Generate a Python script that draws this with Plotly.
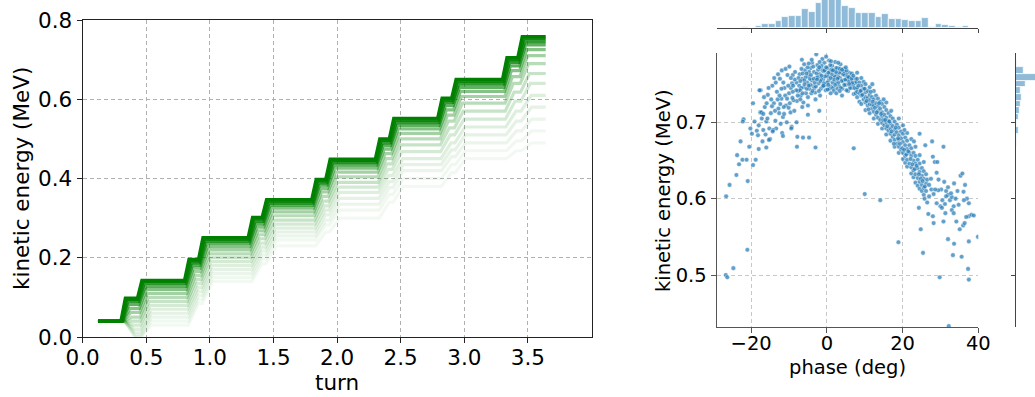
import plotly.graph_objects as go

W, H = 1035, 397
FONT = "DejaVu Sans"

# ---------------- left panel: energy vs turn ----------------
turn_ticks = [0.0, 0.5, 1.0, 1.5, 2.0, 2.5, 3.0, 3.5]
energy_ticks_left = [0.0, 0.2, 0.4, 0.6, 0.8]
inject_turn = 0.12
end_turn = 3.64
# turns at which each acceleration gap starts
step_turns = [0.30, 0.43, 0.80, 0.91, 1.30, 1.41, 1.80, 1.91,
              2.30, 2.41, 2.79, 2.90, 3.30, 3.42]

# energy levels (MeV) of representative particles: initial + after each gap
traj_01 = [0.040, 0.098, 0.143, 0.196, 0.251, 0.302, 0.347, 0.398, 0.449, 0.500, 0.552, 0.603, 0.650, 0.705, 0.758]
traj_02 = [0.040, 0.095, 0.140, 0.192, 0.247, 0.298, 0.343, 0.394, 0.445, 0.496, 0.547, 0.598, 0.645, 0.700, 0.752]
traj_03 = [0.040, 0.090, 0.135, 0.187, 0.242, 0.292, 0.338, 0.389, 0.440, 0.490, 0.541, 0.592, 0.638, 0.693, 0.745]
traj_04 = [0.040, 0.082, 0.128, 0.181, 0.236, 0.285, 0.332, 0.383, 0.434, 0.483, 0.534, 0.584, 0.630, 0.684, 0.737]
traj_05 = [0.040, 0.072, 0.120, 0.174, 0.228, 0.277, 0.325, 0.375, 0.426, 0.474, 0.525, 0.573, 0.620, 0.672, 0.725]
traj_06 = [0.040, 0.062, 0.110, 0.165, 0.220, 0.268, 0.316, 0.366, 0.416, 0.463, 0.514, 0.560, 0.607, 0.657, 0.710]
traj_07 = [0.040, 0.050, 0.100, 0.155, 0.210, 0.258, 0.306, 0.355, 0.404, 0.450, 0.500, 0.545, 0.590, 0.640, 0.690]
traj_08 = [0.040, 0.040, 0.090, 0.145, 0.200, 0.248, 0.295, 0.343, 0.390, 0.437, 0.485, 0.528, 0.570, 0.618, 0.665]
traj_09 = [0.040, 0.030, 0.080, 0.135, 0.190, 0.237, 0.285, 0.331, 0.378, 0.423, 0.468, 0.510, 0.550, 0.595, 0.640]
traj_10 = [0.040, 0.020, 0.070, 0.125, 0.180, 0.227, 0.275, 0.320, 0.365, 0.408, 0.450, 0.490, 0.530, 0.570, 0.610]
traj_11 = [0.040, 0.012, 0.060, 0.115, 0.170, 0.217, 0.265, 0.308, 0.350, 0.392, 0.435, 0.472, 0.510, 0.545, 0.580]
traj_12 = [0.040, 0.006, 0.050, 0.105, 0.160, 0.207, 0.255, 0.295, 0.335, 0.377, 0.420, 0.455, 0.490, 0.520, 0.550]
traj_13 = [0.040, 0.002, 0.040, 0.095, 0.150, 0.197, 0.245, 0.283, 0.320, 0.360, 0.400, 0.435, 0.470, 0.495, 0.520]
traj_14 = [0.040, 0.000, 0.030, 0.085, 0.140, 0.185, 0.230, 0.265, 0.300, 0.340, 0.380, 0.415, 0.450, 0.470, 0.490]
trajectories = [traj_01, traj_02, traj_03, traj_04, traj_05, traj_06, traj_07,
                traj_08, traj_09, traj_10, traj_11, traj_12, traj_13, traj_14]
traj_alpha = [1.0, 0.92, 0.8, 0.62, 0.48, 0.36, 0.28, 0.22, 0.17, 0.13, 0.10, 0.08, 0.06, 0.05]
traj_lag = [0.0, 0.005, 0.010, 0.012, 0.015, 0.018, 0.020, 0.022, 0.024, 0.026, 0.028, 0.030, 0.030, 0.030]
traj_ramp = [0.035, 0.040, 0.045, 0.050, 0.055, 0.060, 0.065, 0.070, 0.075, 0.080, 0.080, 0.080, 0.080, 0.080]

# ---------------- right panel: scatter (phase, energy) ----------------
core_pts = [
    (-8.0,0.752),(-7.6,0.741),(-7.2,0.763),(-6.9,0.735),(-6.5,0.757),(-6.1,0.746),(-5.8,0.768),(-5.5,0.738),
    (-5.2,0.752),(-4.9,0.761),(-4.6,0.744),(-4.3,0.771),(-4.0,0.755),(-3.7,0.748),(-3.4,0.766),(-3.1,0.739),
    (-2.8,0.758),(-2.5,0.775),(-2.2,0.751),(-1.9,0.763),(-1.6,0.744),(-1.3,0.769),(-1.0,0.756),(-0.7,0.778),
    (-0.4,0.749),(-0.1,0.762),(0.2,0.771),(0.5,0.755),(0.8,0.766),(1.1,0.747),(1.4,0.774),(1.7,0.759),
    (2.0,0.768),(2.3,0.752),(2.6,0.763),(2.9,0.771),(3.2,0.748),(3.5,0.758),(3.8,0.766),(4.1,0.744),
    (4.4,0.755),(4.7,0.762),(5.0,0.749),(5.3,0.757),(5.6,0.741),(5.9,0.765),(6.2,0.752),(6.5,0.745),
    (6.8,0.758),(7.1,0.737),(7.4,0.751),(7.7,0.744),
    (-7.9,0.728),(-7.3,0.748),(-6.7,0.770),(-6.2,0.726),(-5.6,0.759),(-5.0,0.733),(-4.5,0.757),(-3.9,0.778),
    (-3.3,0.745),(-2.7,0.764),(-2.1,0.741),(-1.5,0.757),(-0.9,0.767),(-0.3,0.742),(0.3,0.760),(0.9,0.775),
    (1.5,0.752),(2.1,0.760),(2.7,0.744),(3.3,0.765),(3.9,0.754),(4.5,0.770),(5.1,0.763),(5.7,0.754),
    (6.3,0.761),(6.9,0.749),(7.5,0.757),
    (-7.5,0.758),(-6.8,0.745),(-6.0,0.755),(-5.3,0.744),(-4.7,0.766),(-4.1,0.738),(-3.5,0.757),(-2.9,0.747),
    (-2.3,0.769),(-1.7,0.754),(-1.1,0.747),(-0.5,0.760),(0.1,0.752),(0.7,0.744),(1.3,0.763),(1.9,0.756),
    (2.5,0.771),(3.1,0.759),(3.7,0.745),(4.3,0.763),(4.9,0.756),(5.5,0.760),(6.1,0.745),(6.7,0.752),(7.3,0.745),
    (-6.4,0.764),(-5.1,0.772),(-3.6,0.773),(-2.4,0.759),(-1.4,0.774),(-0.6,0.768),(0.4,0.765),(1.2,0.769),
    (2.4,0.766),(3.4,0.770),(4.6,0.767),(5.8,0.759),(6.6,0.764),(7.8,0.753),(-0.8,0.751),(1.6,0.745),
    (3.0,0.752),(-4.4,0.749),(-7.0,0.754),(5.2,0.768),
    (-2.8,0.789),(-6.6,0.782),(-1.2,0.783),(0.6,0.781),(2.2,0.779),(-4.8,0.777),(3.6,0.776),(-0.2,0.786),
    (1.8,0.741),(-1.8,0.735),(-3.0,0.730),(-5.0,0.722),(-2.0,0.715),(2.5,0.738),(4.0,0.735),(1.0,0.738),(0.2,0.743),
    (-7.7,0.735),(-7.1,0.742),(-6.4,0.738),(-5.9,0.750),(-5.4,0.764),(-4.8,0.748),(-4.2,0.762),(-3.8,0.741),
    (-3.2,0.752),(-2.6,0.756),(-2.0,0.772),(-1.4,0.761),(-0.9,0.748),(-0.2,0.772),(0.4,0.749),(1.0,0.758),
    (1.6,0.768),(2.2,0.749),(2.8,0.757),(3.4,0.741),(4.0,0.769),(4.6,0.749),(5.2,0.742),(5.9,0.750),
    (6.5,0.757),(7.0,0.761),(7.6,0.738),(-6.0,0.776),(-4.0,0.782),(-1.9,0.779),(1.1,0.780),(3.0,0.778),
    (5.0,0.772),(-8.5,0.756),(-9.0,0.762),(-9.5,0.745),
]
slope_pts = [
    (8.0,0.757),(8.0,0.745),(8.0,0.733),(8.0,0.765),(8.0,0.740),(8.6,0.738),(8.6,0.752),(8.6,0.727),
    (9.1,0.748),(9.1,0.735),(9.1,0.758),(9.1,0.742),(9.1,0.724),(9.7,0.744),(9.7,0.730),(9.7,0.753),
    (10.2,0.739),(10.2,0.726),(10.2,0.750),(10.2,0.716),(10.2,0.733),(10.8,0.741),(10.8,0.722),(10.8,0.732),
    (11.3,0.736),(11.3,0.724),(11.3,0.746),(11.3,0.712),(11.3,0.729),(11.9,0.718),(11.9,0.733),(11.9,0.723),
    (12.4,0.730),(12.4,0.714),(12.4,0.741),(12.4,0.722),(12.4,0.705),(13.0,0.725),(13.0,0.710),(13.0,0.735),
    (13.5,0.721),(13.5,0.706),(13.5,0.731),(13.5,0.715),(13.5,0.698),(14.1,0.718),(14.1,0.703),(14.1,0.727),
    (14.6,0.713),(14.6,0.699),(14.6,0.724),(14.6,0.708),(14.6,0.692),(15.2,0.710),(15.2,0.696),(15.2,0.720),
    (15.7,0.706),(15.7,0.692),(15.7,0.716),(15.7,0.700),(15.7,0.684),(15.7,0.726),(16.3,0.702),(16.3,0.689),
    (16.3,0.712),(16.8,0.698),(16.8,0.685),(16.8,0.708),(16.8,0.676),(16.8,0.692),(17.4,0.695),(17.4,0.681),
    (17.4,0.705),(17.9,0.690),(17.9,0.677),(17.9,0.701),(17.9,0.668),(17.9,0.684),(18.5,0.687),(18.5,0.672),
    (18.5,0.697),(19.0,0.683),(19.0,0.668),(19.0,0.693),(19.0,0.660),(19.0,0.677),(19.0,0.705),(19.6,0.679),
    (19.6,0.664),(19.6,0.688),(20.1,0.674),(20.1,0.660),(20.1,0.685),(20.1,0.652),(20.1,0.696),(20.7,0.670),
    (20.7,0.656),(20.7,0.680),(20.7,0.647),(21.2,0.665),(21.2,0.651),(21.2,0.676),(21.2,0.642),(21.2,0.686),
    (21.8,0.660),(21.8,0.646),(21.8,0.670),(22.3,0.656),(22.3,0.641),(22.3,0.666),(22.3,0.633),(22.3,0.678),
    (22.9,0.650),(22.9,0.637),(22.9,0.660),(22.9,0.628),(23.4,0.646),(23.4,0.632),(23.4,0.656),(23.4,0.621),
    (23.4,0.668),(24.0,0.640),(24.0,0.627),(24.0,0.651),(24.0,0.617),(24.5,0.635),(24.5,0.622),(24.5,0.646),
    (24.5,0.613),(24.5,0.657),(25.1,0.630),(25.1,0.618),(25.1,0.640),(25.1,0.610),(25.6,0.626),(25.6,0.614),
    (25.6,0.636),(25.6,0.605),(25.6,0.648),(26.2,0.620),(26.2,0.610),(26.2,0.632),
    (8.3,0.748),(8.9,0.741),(9.4,0.736),(10.0,0.744),(10.5,0.728),(11.0,0.717),(11.6,0.740),(12.1,0.727),
    (12.7,0.719),(13.2,0.713),(13.8,0.725),(14.3,0.711),(14.9,0.703),(15.4,0.703),(16.0,0.695),(16.5,0.701),
    (17.1,0.688),(17.7,0.672),(18.2,0.693),(18.8,0.679),(19.3,0.672),(19.9,0.666),(20.4,0.664),(21.0,0.658),
    (21.5,0.662),(22.1,0.652),(22.6,0.645),(23.2,0.639),(23.7,0.643),(24.3,0.632),(24.8,0.626),(25.3,0.623),
    (25.9,0.616),(26.5,0.625),(27.0,0.618),(27.6,0.612),(28.2,0.606),(15.0,0.730),(17.0,0.715),(12.0,0.750),
    (20.5,0.690),(23.0,0.675),
]
tail_pts = [
    (24.5,0.685),(26.0,0.670),(24.8,0.560),(25.4,0.529),(24.3,0.588),(26.8,0.580),(28.0,0.655),(28.5,0.648),
    (29.0,0.634),(29.5,0.625),(30.2,0.612),(31.0,0.622),(31.5,0.610),(32.0,0.605),(32.5,0.598),(33.0,0.602),
    (30.5,0.598),(31.2,0.593),(33.5,0.590),(34.0,0.600),(34.8,0.592),(35.3,0.630),(35.8,0.633),(36.5,0.618),
    (37.0,0.600),(37.5,0.577),(36.8,0.576),(38.2,0.579),(38.8,0.578),(36.0,0.565),(35.1,0.560),(34.2,0.570),
    (33.0,0.585),(30.8,0.570),(29.0,0.594),(28.0,0.577),(28.2,0.568),(32.0,0.547),(33.6,0.541),(33.3,0.526),
    (35.6,0.524),(37.3,0.508),(37.5,0.544),(37.5,0.494),(29.8,0.497),(18.9,0.543),(14.1,0.598),(10.0,0.606),
    (32.2,0.433),(30.8,0.668),(27.8,0.675),(29.2,0.648),(26.5,0.595),(30.0,0.590),(32.0,0.615),(34.5,0.610),
    (36.2,0.598),(33.6,0.620),(29.4,0.611),(27.0,0.603),(25.8,0.600),(31.3,0.581),(33.5,0.581),(36.1,0.609),
    (37.5,0.594),(31.5,0.603),(32.8,0.607),(39.9,0.550),(36.4,0.568),(30.4,0.588),(27.5,0.626),(28.6,0.612),
    (7.1,0.666),(-3.0,0.667),
]
wing_pts = [
    (-18.5,0.689),(-18.0,0.696),(-17.6,0.713),(-17.2,0.705),(-16.8,0.690),(-16.4,0.720),(-16.0,0.701),(-15.6,0.736),
    (-15.2,0.692),(-14.8,0.712),(-14.4,0.748),(-14.0,0.725),(-13.6,0.702),(-13.2,0.740),(-12.8,0.718),(-12.4,0.757),
    (-12.0,0.731),(-11.6,0.707),(-11.2,0.745),(-10.8,0.722),(-10.4,0.762),(-10.0,0.738),(-9.6,0.713),(-9.2,0.751),
    (-8.8,0.729),(-8.4,0.766),(-8.1,0.742),(-13.9,0.758),(-12.9,0.763),(-11.9,0.768),(-10.9,0.770),(-9.9,0.773),
    (-14.7,0.730),(-13.4,0.692),(-12.2,0.698),(-11.0,0.735),(-9.8,0.725),(-8.6,0.715),(-15.9,0.725),(-17.5,0.742),
    (-16.2,0.684),(-15.0,0.678),(-14.2,0.690),(-12.6,0.712),(-11.4,0.720),(-10.2,0.748),(-9.0,0.740),(-10.6,0.700),
    (-9.3,0.694),(-11.8,0.686),(-13.0,0.730),(-15.4,0.745),(-16.6,0.733),(-19.1,0.701),(-18.2,0.683),(-20.2,0.692),
    (-19.8,0.685),(-17.0,0.675),(-16.0,0.667),(-15.3,0.677),(-18.0,0.665),(-18.8,0.651),(-20.5,0.668),(-19.5,0.644),
    (-20.9,0.623),(-22.0,0.704),(-22.8,0.675),(-23.7,0.657),(-23.2,0.645),(-22.3,0.651),(-21.2,0.651),(-23.9,0.631),
    (-25.7,0.618),(-26.6,0.603),(-21.0,0.533),(-24.7,0.509),(-26.7,0.500),(-26.3,0.497),(-7.8,0.681),(-6.3,0.680),
    (-4.7,0.680),(-7.9,0.668),(-9.4,0.692),(-11.6,0.682),(-14.3,0.688),(-5.0,0.710),(-6.5,0.720),(-8.0,0.700),
    (-12.0,0.744),(-7.0,0.730),(-19.5,0.725),(-17.8,0.742),(-22.2,0.701),(-17.3,0.713),
    (-13.5,0.752),(-12.5,0.735),(-11.5,0.752),(-10.5,0.731),(-9.5,0.758),(-8.9,0.748),(-14.5,0.721),(-16.8,0.711),
    (-15.7,0.705),(-13.7,0.715),(-11.3,0.711),(-10.1,0.719),(-9.1,0.732),(-12.3,0.724),
]
scatter_pts = core_pts + slope_pts + tail_pts + wing_pts
phase_deg = [p for p, e in scatter_pts]
energy_mev = [e for p, e in scatter_pts]

# marginal histograms (counts)
phase_bin_start = -22.4
phase_bin_width = 1.762
phase_counts = [3, 1, 7, 13, 12, 22, 33, 36, 36, 58, 49, 76, 95, 100, 95, 67, 60, 47, 47,
                46, 34, 43, 29, 29, 25, 22, 22, 30, 5, 12, 9, 8, 5, 7, 2]
energy_bin_top = 0.7807
energy_bin_width = 0.0087
energy_counts = [3, 25, 70, 31, 16, 17, 14, 13, 9, 3, 8, 3, 2, 1, 1, 1, 0.6, 0.6, 0.5, 0.5,
                 0.5, 0.4, 0.4, 0.4, 0.3, 0.3, 0.3, 0.3, 0.3, 0.3, 0.3, 0.3, 0.3]

# ---------------- figure ----------------
def px_x(px):
    return px / W

def px_y(py):
    return 1 - py / H

fig = go.Figure()

for levels, a, lag, ramp in reversed(list(zip(trajectories, traj_alpha, traj_lag, traj_ramp))):
    xs = [inject_turn, 0.26]
    ys = [levels[0], levels[0]]
    for k, t in enumerate(step_turns):
        xs += [t + lag, t + lag + ramp]
        ys += [levels[k], levels[k + 1]]
    xs.append(end_turn)
    ys.append(levels[-1])
    fig.add_trace(go.Scatter(x=xs, y=ys, mode="lines", xaxis="x", yaxis="y",
                             line=dict(color=f"rgba(0,128,0,{a})", width=3.2),
                             showlegend=False, hoverinfo="skip"))

fig.add_trace(go.Scatter(x=phase_deg, y=energy_mev, mode="markers", xaxis="x2", yaxis="y2",
                         marker=dict(size=4.6, color="rgba(31,119,180,0.7)",
                                     line=dict(color="white", width=0.4)),
                         showlegend=False))

phase_centers = [phase_bin_start + phase_bin_width * (k + 0.5) for k in range(len(phase_counts))]
fig.add_trace(go.Bar(x=phase_centers, y=phase_counts, width=phase_bin_width, xaxis="x3", yaxis="y3",
                     marker=dict(color="rgba(31,119,180,0.5)", line=dict(color="white", width=0.8)),
                     showlegend=False))

energy_centers = [energy_bin_top - energy_bin_width * (k + 0.5) for k in range(len(energy_counts))]
fig.add_trace(go.Bar(y=energy_centers, x=energy_counts, width=energy_bin_width, orientation="h",
                     xaxis="x4", yaxis="y4",
                     marker=dict(color="rgba(31,119,180,0.5)", line=dict(color="white", width=0.8)),
                     showlegend=False))

left_dom_x = [px_x(82.7), px_x(591.5)]
left_dom_y = [px_y(337), px_y(20)]
sc_dom_x = [px_x(716.7), px_x(978.3)]
sc_dom_y = [px_y(327), px_y(53)]
sc_xrange = [-29.1, 40]
sc_yrange = [0.4319, 0.7908]

tick_font_l = dict(family=FONT, size=21.5, color="black")
tick_font_r = dict(family=FONT, size=19.5, color="black")

common = dict(automargin=False, zeroline=False)
GRID_DASH = "4px,3px"

fig.update_layout(
    template="none",
    width=W, height=H, margin=dict(l=0, r=0, t=0, b=0, pad=0), autosize=False,
    paper_bgcolor="white", plot_bgcolor="white", bargap=0,
    font=dict(family=FONT, color="black"),
    xaxis=dict(domain=left_dom_x, range=[0, 4], tickvals=turn_ticks, tickformat=".1f",
               anchor="y", showline=True, mirror=True, linecolor="#222", linewidth=1.2,
               ticks="outside", ticklen=5, tickcolor="#222", tickfont=tick_font_l,
               ticklabelstandoff=-4,
               showgrid=True, gridcolor="#b0b0b0", griddash=GRID_DASH, gridwidth=1, **common),
    yaxis=dict(domain=left_dom_y, range=[0, 0.8], tickvals=energy_ticks_left, tickformat=".1f",
               anchor="x", showline=True, mirror=True, linecolor="#222", linewidth=1.2,
               ticks="outside", ticklen=5, tickcolor="#222", tickfont=tick_font_l,
               showgrid=True, gridcolor="#b0b0b0", griddash=GRID_DASH, gridwidth=1, **common),
    xaxis2=dict(domain=sc_dom_x, range=sc_xrange, tickvals=[-20, 0, 20, 40], anchor="y2",
                showline=True, linecolor="#555", linewidth=1.2, ticks="outside", ticklen=5,
                tickcolor="#555", tickfont=tick_font_r, ticklabelstandoff=-7,
                showgrid=True, gridcolor="#c8c8c8",
                griddash=GRID_DASH, gridwidth=1, **common),
    yaxis2=dict(domain=sc_dom_y, range=sc_yrange, tickvals=[0.5, 0.6, 0.7], tickformat=".1f",
                anchor="x2", showline=True, linecolor="#555", linewidth=1.2, ticks="outside",
                ticklen=5, tickcolor="#555", tickfont=tick_font_r, showgrid=True,
                gridcolor="#c8c8c8", griddash=GRID_DASH, gridwidth=1, **common),
    xaxis3=dict(domain=sc_dom_x, range=sc_xrange, tickvals=[-20, 0, 20, 40], showticklabels=False,
                anchor="y3", showline=True, linecolor="#444", linewidth=1.2, ticks="outside",
                ticklen=4, tickcolor="#444", showgrid=False, **common),
    yaxis3=dict(domain=[px_y(28.3), 1.0], range=[0, 85], visible=False, anchor="x3", **common),
    xaxis4=dict(domain=[px_x(1015.7), 1.0], range=[0, 58], visible=False, anchor="y4", **common),
    yaxis4=dict(domain=sc_dom_y, range=sc_yrange, tickvals=[0.5, 0.6, 0.7], showticklabels=False,
                anchor="x4", showline=True, linecolor="#444", linewidth=1.2, ticks="outside",
                ticklen=4, tickcolor="#444", showgrid=False, **common),
)

annotations = [
    dict(text="kinetic energy (MeV)", x=px_x(21), y=px_y(179), textangle=-90,
         font=dict(family=FONT, size=21.5, color="black")),
    dict(text="turn", x=px_x(336.5), y=px_y(382), font=dict(family=FONT, size=21.5, color="black")),
    dict(text="kinetic energy (MeV)", x=px_x(664), y=px_y(191), textangle=-90,
         font=dict(family=FONT, size=19.5, color="black")),
    dict(text="phase (deg)", x=px_x(847.8), y=px_y(367), font=dict(family=FONT, size=19.5, color="black")),
]
for a in annotations:
    a.update(xref="paper", yref="paper", showarrow=False, xanchor="center", yanchor="middle")
fig.update_layout(annotations=annotations)

fig.write_html("out.html")
